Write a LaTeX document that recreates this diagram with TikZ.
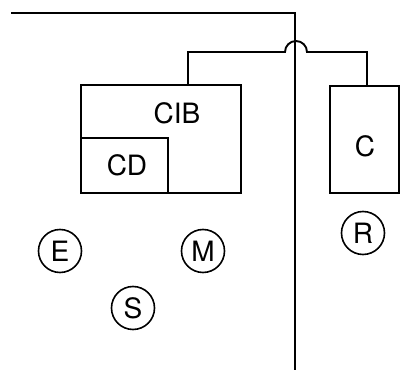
\documentclass[tikz,border=0pt]{standalone}
\usepackage{fontspec}
\setmainfont{TeX Gyre Heros}
\usetikzlibrary{calc, positioning}
\tikzset{
  wire/.style={line width=1.9pt},
  boxnode/.style={draw, line width=1.9pt, rectangle, inner sep=0pt},
  ring/.style={draw, circle, line width=1.6pt, minimum size=43pt, inner sep=0pt, font=\fontsize{28}{28}\selectfont},
  tag/.style={font=\fontsize{28}{28}\selectfont, inner sep=0pt}
}

\begin{document}
\begin{tikzpicture}[>=latex, x=1pt, y=1pt]
\useasboundingbox (0,0) rectangle (400,370);
% boxes
\node[boxnode, minimum width=160pt, minimum height=108pt] (cib) at (161,231) {};
\node[boxnode, minimum width=87pt, minimum height=55pt] (cd) at (124.5,204.5) {};
\node[boxnode, minimum width=69pt, minimum height=107pt] (c) at (364.5,230.5) {};
\node[tag] (cibtext) at (177,257) {CIB};
\node[tag] (cdtext) at (127,205) {CD};
\node[tag] (ctext) at (365,224) {C};
% circles
\node[ring] (E) at (60,119) {E};
\node[ring] (M) at (203,119) {M};
\node[ring] (S) at (133,62) {S};
\node[ring] (R) at (363,137) {R};
% wires
\coordinate (w0) at (11,357);
\coordinate (w1) at (295,357);
\coordinate (w2) at (295,0);
\coordinate (cibtop) at (188,285);
\coordinate (ctop) at (367,284);
\coordinate (hop) at (285,318);
\draw[wire] (w0) -- (w1) -- (w2);
\draw[wire] (cibtop) |- (hop) arc[start angle=180, end angle=0, radius=11pt]
  -| (ctop);

    \end{tikzpicture}
\end{document}
